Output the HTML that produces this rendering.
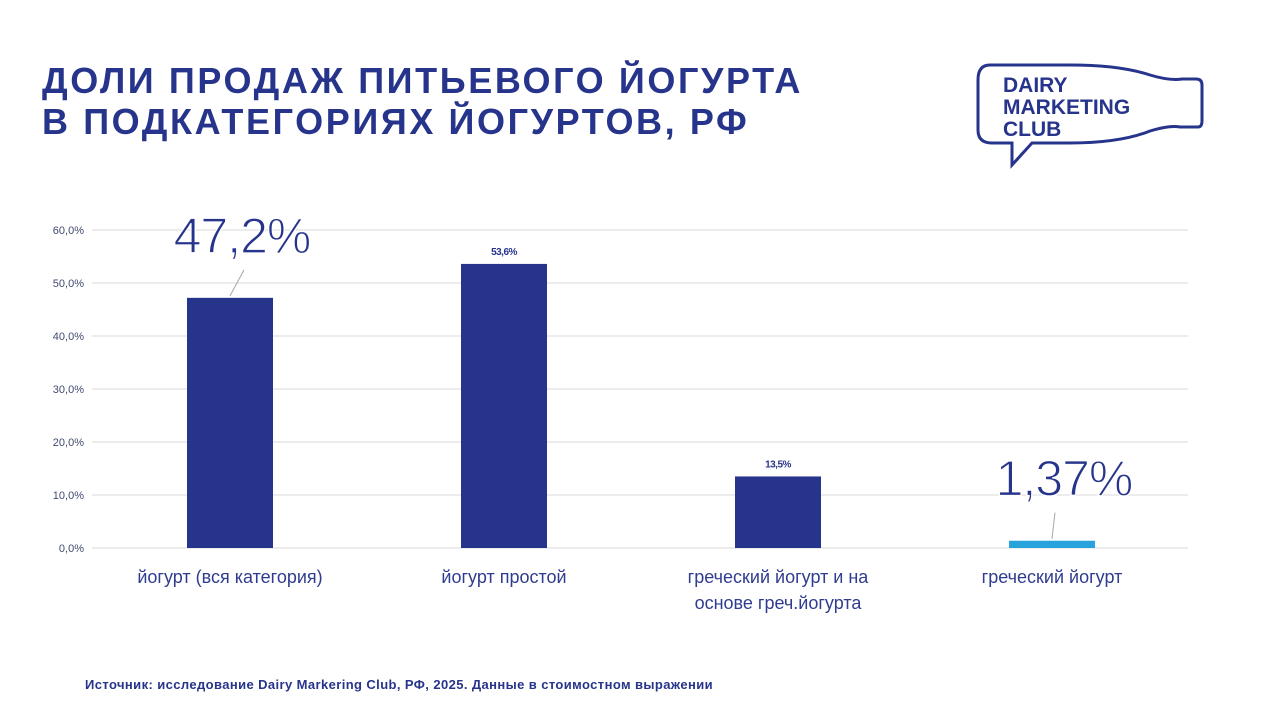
<!DOCTYPE html>
<html><head><meta charset="utf-8"><style>
body{margin:0;width:1280px;height:720px;background:#fff;font-family:"Liberation Sans",sans-serif;overflow:hidden;position:relative}
.title{position:absolute;left:42px;top:60px;font-size:36px;font-weight:bold;color:#27348b;line-height:41px;letter-spacing:2.6px}
.src{position:absolute;left:85px;top:677px;font-size:13px;font-weight:bold;color:#27348b;letter-spacing:0.4px}
</style></head><body>
<div class="title">ДОЛИ ПРОДАЖ ПИТЬЕВОГО ЙОГУРТА<br>В ПОДКАТЕГОРИЯХ ЙОГУРТОВ, РФ</div>
<svg style="position:absolute;left:970px;top:55px" width="240" height="115">
<path d="M20 10 Q8 10 8 25 L8 75 Q8 88 22 88 L42 88 L42 110 L62 88 L100 88 Q150 88 180 76 Q200 70 210 72 L228 72 Q232 72 232 66 L232 30 Q232 24 226 24 L212 24 Q200 26 180 20 Q150 10 100 10 Z" fill="none" stroke="#27348b" stroke-width="3"/>
<text x="33" y="37" font-size="21" font-weight="bold" fill="#27348b">DAIRY</text>
<text x="33" y="59" font-size="21" font-weight="bold" fill="#27348b">MARKETING</text>
<text x="33" y="81" font-size="21" font-weight="bold" fill="#27348b">CLUB</text>
</svg>
<svg id="chart" style="position:absolute;left:0;top:0" width="1280" height="720"></svg>
<div class="src">Источник: исследование Dairy Markering Club, РФ, 2025. Данные в стоимостном выражении</div>
<script>
const categories=[["йогурт (вся категория)"],["йогурт простой"],["греческий йогурт и на","основе греч.йогурта"],["греческий йогурт"]];
const values=[47.2,53.6,13.5,1.37];
const valueLabels=["47,2%","53,6%","13,5%","1,37%"];
const ticks=[0,10,20,30,40,50,60];
const tickLabels=["0,0%","10,0%","20,0%","30,0%","40,0%","50,0%","60,0%"];
const big=[true,false,false,true];
const colors=["#27348b","#27348b","#27348b","#29a3dc"];
const svg=document.getElementById('chart');const NS='http://www.w3.org/2000/svg';
const x0=92,x1=1188,y0=548,yTop=230,ymax=60;
const y=v=>y0-(v/ymax)*(y0-yTop);
const band=(x1-x0)/categories.length;
const cx=i=>x0+band*(i+0.5)+1;
function mk(t,a,txt){const e=document.createElementNS(NS,t);for(const k in a)e.setAttribute(k,a[k]);if(txt!=null)e.textContent=txt;svg.appendChild(e);return e;}
ticks.forEach((t,i)=>{
 const g=mk('line',{x1:x0,x2:x1,y1:y(t),y2:y(t),stroke:'#d9d9d9','stroke-width':1});
 
 
 const l=mk('text',{x:84,y:y(t)+4,'text-anchor':'end','font-size':11,fill:'#404a6e'},tickLabels[i]);
 
 
});
values.forEach((v,i)=>{
 const bw=86,c=cx(i);
 const r=mk('rect',{x:c-bw/2,y:y(v),width:bw,height:y0-y(v),fill:colors[i]});
 
 
 let lb;
 if(big[i]){
  const ly=y(v)-23;
  mk('line',{x1:c,y1:y(v)-2,x2:c+(i==0?14:3),y2:ly-5,stroke:'#a6a6a6','stroke-width':1});
  lb=mk('text',{x:c+12,y:ly-22,'text-anchor':'middle','font-size':50,fill:'#27348b','stroke':'#fff','stroke-width':1.2,'letter-spacing':'-1'},valueLabels[i]);
 } else {
  lb=mk('text',{x:c,y:y(v)-9,'text-anchor':'middle','font-size':10,'font-weight':'bold',fill:'#27348b','letter-spacing':'-0.5'},valueLabels[i]);
 }
 
 
 categories[i].forEach((s,j)=>{
  const t=mk('text',{x:c,y:583+j*26,'text-anchor':'middle','font-size':18,fill:'#2f3c8f'},s);
  
  
 });
});
</script>
</body></html>
